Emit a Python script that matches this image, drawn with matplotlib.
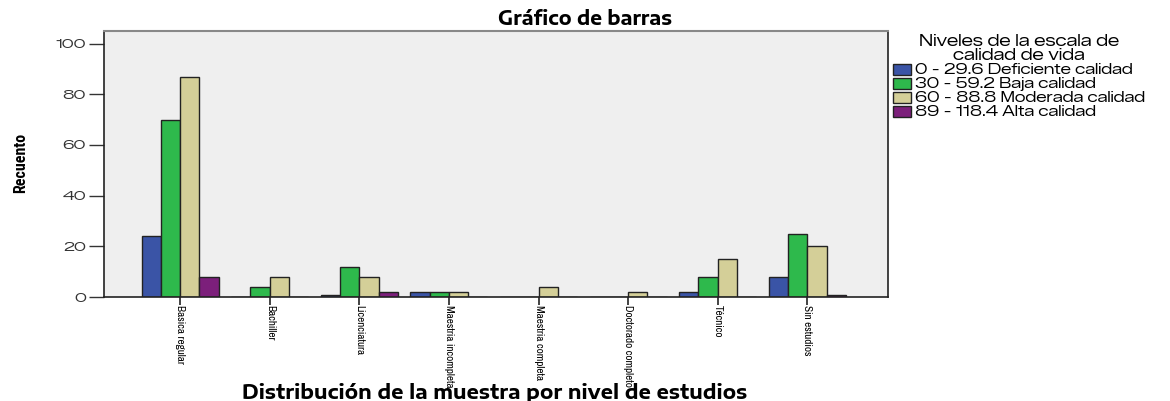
import matplotlib
matplotlib.use("Agg")
import matplotlib.pyplot as plt
import numpy as np

categories = ["Basica regular", "Bachiller", "Licenciatura", "Maestria incompleta",
              "Maestria completa", "Doctorado completo", "Técnico", "Sin estudios"]
series_names = ["0 - 29.6 Deficiente calidad", "30 - 59.2 Baja calidad",
                "60 - 88.8 Moderada calidad", "89 - 118.4 Alta calidad"]
deficiente = [24, 0, 1, 2, 0, 0, 2, 8]
baja = [70, 4, 12, 2, 0, 0, 8, 25]
moderada = [87, 8, 8, 2, 4, 2, 15, 20]
alta = [8, 0, 2, 0, 0, 0, 0, 1]
yticks = [0, 20, 40, 60, 80, 100]

colors = ["#3a54a6", "#2eb94c", "#d4cf98", "#7c1f7b"]
WIDE = ["Zalando Sans Expanded", "Encode Sans Expanded", "DejaVu Sans"]
WIDE_BOLD = ["Encode Sans Expanded", "DejaVu Sans"]
NARROW = ["Archivo Narrow", "Roboto Condensed", "DejaVu Sans"]

fig = plt.figure(figsize=(11.7, 4.01), dpi=100)
ax = fig.add_axes([0.0889, 0.259, 0.670, 0.664])
ax.set_facecolor("#efefef")

x = np.arange(len(categories))
w = 0.215
for i, (vals, c, n) in enumerate(zip([deficiente, baja, moderada, alta], colors, series_names)):
    ax.bar(x + (i - 1.5) * w, vals, width=w, color=c, edgecolor="#222222",
           linewidth=1.0, label=n)

ax.set_xlim(-0.85, 7.9)
ax.set_ylim(0, 105)
ax.set_yticks(yticks)
ax.set_yticklabels([str(v) for v in yticks], fontsize=10, family=WIDE,
                   color="#333333")
ax.tick_params(axis="y", length=11, width=1, direction="out", color="#333333", pad=2)
ax.set_xticks(x)
ax.set_xticklabels(categories, rotation=270, fontsize=8,
                   family=NARROW, va="top", ha="center")
ax.tick_params(axis="x", length=6, width=1.2, direction="out", color="#222222", pad=0)
for s in ["left", "bottom", "right"]:
    ax.spines[s].set_color("#222222")
    ax.spines[s].set_linewidth(1.2)
ax.spines["top"].set_color("#888888")
ax.spines["top"].set_linewidth(1.5)

fig.text(0.5, 0.953, "Gráfico de barras", ha="center", va="center",
         fontsize=13.5, fontweight="bold", family=WIDE_BOLD)
fig.text(0.018, 0.594, "Recuento", rotation=90, ha="center", va="center",
         fontsize=11.5, fontweight="bold", family=["Roboto Condensed", "DejaVu Sans"])
fig.text(0.423, 0.02, "Distribución de la muestra por nivel de estudios", ha="center",
         va="center", fontsize=14, fontweight="bold", family=WIDE_BOLD)

leg = ax.legend(loc="upper left", bbox_to_anchor=(1.003, 1.0), frameon=False,
                title="Niveles de la escala de\ncalidad de vida",
                title_fontproperties={"family": WIDE, "size": 11.5},
                handlelength=1.2, handleheight=0.8,
                handletextpad=0.3, labelspacing=0.0, borderaxespad=0.0,
                borderpad=0.2,
                prop={"family": WIDE, "size": 10.5})
leg.get_title().set_multialignment("center")
leg.get_title().set_linespacing(0.95)
for h in leg.legend_handles:
    h.set_edgecolor("#222222")

fig.savefig("out.png", dpi=100)
